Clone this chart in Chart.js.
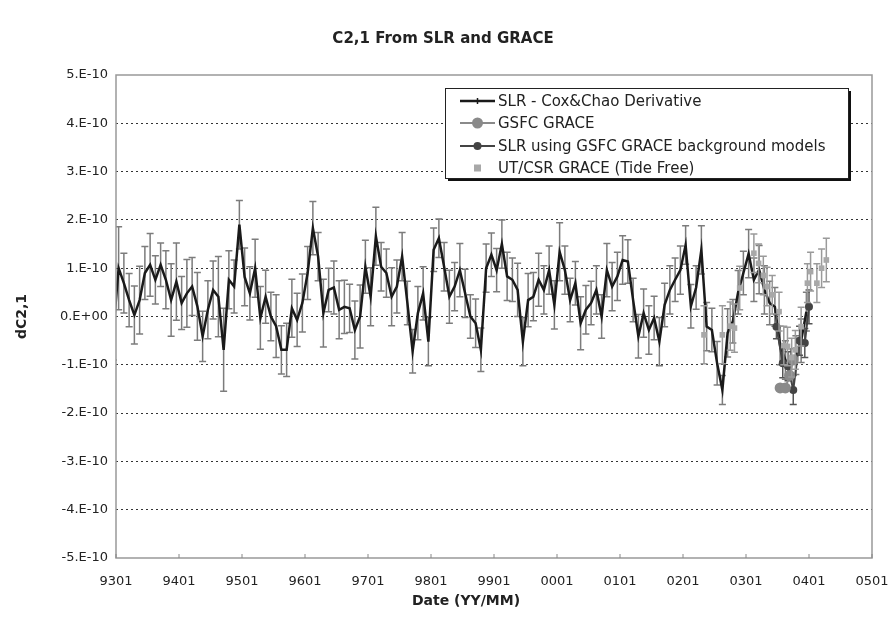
<!DOCTYPE html>
<html>
<head>
<meta charset="utf-8">
<script src="https://cdn.jsdelivr.net/npm/chart.js@4.4.1/dist/chart.umd.min.js"></script>
<style>
  html, body { margin: 0; padding: 0; background: #fff; }
</style>
</head>
<body>
<canvas id="grafico" width="893" height="617"></canvas>
<script>
// valores em unidades de 1e-10, eixo x em meses desde 9301
const xTickLabels = ['9301', '9401', '9501', '9601', '9701', '9801', '9901', '0001', '0101', '0201', '0301', '0401', '0501'];
const yTickValues = [-5, -4, -3, -2, -1, 0, 1, 2, 3, 4, 5];

// SLR - Cox&Chao (mensal)
const slrStart = -0.5;
const slrValues = [
  -0.3, 1.0, 0.69, 0.34, 0.03, 0.34, 0.9, 1.07, 0.76, 1.07,
  0.76, 0.34, 0.72, 0.28, 0.48, 0.62, 0.21, -0.41, 0.14, 0.55,
  0.41, -0.69, 0.76, 0.62, 1.9, 0.82, 0.48, 1.0, -0.03, 0.41,
  0.0, -0.2, -0.69, -0.69, 0.17, -0.07, 0.28, 0.9, 1.83, 1.24,
  0.07, 0.55, 0.6, 0.14, 0.2, 0.17, -0.28, 0.0, 1.03, 0.41,
  1.66, 1.03, 0.9, 0.41, 0.62, 1.24, 0.28, -0.72, 0.07, 0.48,
  -0.52, 1.38, 1.62, 1.03, 0.41, 0.62, 0.96, 0.48, 0.0, -0.14,
  -0.69, 1.0, 1.28, 0.96, 1.5, 0.83, 0.76, 0.55, -0.52, 0.34,
  0.41, 0.76, 0.55, 0.96, 0.24, 1.34, 0.96, 0.34, 0.69, -0.14,
  0.14, 0.28, 0.55, 0.0, 0.96, 0.62, 0.83, 1.17, 1.14, 0.34,
  -0.41, 0.07, -0.28, -0.03, -0.52, 0.24, 0.55, 0.76, 0.96, 1.48,
  0.21, 0.6, 1.38, -0.21, -0.28, -0.97, -1.52, -0.34, -0.1, 0.5,
  0.9, 1.3, 0.76, 0.97, 0.55, 0.28, 0.2, -0.6, -0.9, -0.97,
  -0.8, -0.5, 0.1
];
const slrErrors = [
  0.6, 0.86, 0.62, 0.55, 0.6, 0.7, 0.55, 0.65, 0.5, 0.45,
  0.6, 0.75, 0.8, 0.55, 0.7, 0.6, 0.7, 0.52, 0.6, 0.6,
  0.83, 0.86, 0.6, 0.55, 0.5, 0.6, 0.55, 0.6, 0.65, 0.55,
  0.5, 0.65, 0.5, 0.55, 0.6, 0.55, 0.6, 0.55, 0.55, 0.5,
  0.7, 0.45, 0.55, 0.6, 0.55, 0.5, 0.6, 0.65, 0.55, 0.6,
  0.6, 0.5, 0.5, 0.6, 0.55, 0.5, 0.45, 0.45, 0.55, 0.55,
  0.5, 0.45, 0.4, 0.5, 0.55, 0.5, 0.55, 0.5, 0.45, 0.5,
  0.45, 0.5, 0.45, 0.45, 0.5, 0.5, 0.45, 0.55, 0.5, 0.55,
  0.5, 0.55, 0.5, 0.5, 0.5, 0.6, 0.5, 0.45, 0.45, 0.55,
  0.5, 0.45, 0.5, 0.45, 0.55, 0.5, 0.5, 0.5, 0.45, 0.45,
  0.45, 0.5, 0.5, 0.45, 0.5, 0.45, 0.5, 0.45, 0.5, 0.4,
  0.45, 0.45, 0.5, 0.5, 0.45, 0.45, 0.3, 0.5, 0.45, 0.45,
  0.45, 0.5, 0.45, 0.5, 0.5, 0.45, 0.4, 0.4, 0.4, 0.3,
  0.4, 0.45, 0.4
];

// GSFC GRACE
const gsfcMonths = [126.5, 127.5, 128.3, 129.0];
const gsfcValues = [-1.48, -1.48, -1.22, -0.9];

// SLR usando modelos de fundo GSFC GRACE
const slrGsfcMonths = [125.8, 127, 128, 129, 130.2, 131.2, 132];
const slrGsfcValues = [-0.21, -0.97, -1.03, -1.52, -0.5, -0.55, 0.2];
const slrGsfcErrors = [0.25, 0.3, 0.3, 0.3, 0.3, 0.3, 0.35];

// UT/CSR GRACE (Tide Free)
const csrMonths = [112, 115.5, 117, 117.8, 118.8, 121.5, 122.4, 123.3, 124, 125, 126.3, 127.2, 127.9, 128.7, 129.4, 130.5, 131.7, 132.3, 133.5, 134.4, 135.3];
const csrValues = [-0.38, -0.38, -0.2, -0.24, 0.59, 1.31, 1.1, 0.85, 0.62, 0.45, 0.1, -0.6, -0.62, -0.85, -0.69, -0.21, 0.69, 0.93, 0.69, 1.0, 1.17];
const csrErrors = [0.6, 0.6, 0.5, 0.5, 0.45, 0.4, 0.4, 0.4, 0.4, 0.4, 0.4, 0.4, 0.4, 0.4, 0.4, 0.4, 0.4, 0.4, 0.4, 0.4, 0.45];

const fonte = 'DejaVu Sans';

// barras de erro, desenhadas antes de cada série
const barrasErro = {
  id: 'barrasErro',
  beforeDatasetDraw(chart, args) {
    const ds = chart.data.datasets[args.index];
    if (!ds.errors) return;
    const y = chart.scales.y;
    const area = chart.chartArea;
    const ctx = chart.ctx;
    ctx.save();
    ctx.beginPath();
    ctx.rect(area.left, area.top, area.right - area.left, area.bottom - area.top);
    ctx.clip();
    ctx.strokeStyle = ds.errorColor;
    ctx.lineWidth = 1.5;
    args.meta.data.forEach((pt, i) => {
      const v = ds.data[i].y, e = ds.errors[i];
      const topo = y.getPixelForValue(v + e), base = y.getPixelForValue(v - e);
      ctx.beginPath();
      ctx.moveTo(pt.x, topo); ctx.lineTo(pt.x, base);
      ctx.moveTo(pt.x - 3.5, topo); ctx.lineTo(pt.x + 3.5, topo);
      ctx.moveTo(pt.x - 3.5, base); ctx.lineTo(pt.x + 3.5, base);
      ctx.stroke();
    });
    ctx.restore();
  }
};

// moldura, título do eixo x e legenda dentro do gráfico
const molduraLegenda = {
  id: 'molduraLegenda',
  afterDraw(chart) {
    const ctx = chart.ctx;
    const a = chart.chartArea;
    const x = chart.scales.x;
    ctx.save();
    ctx.strokeStyle = '#999';
    ctx.lineWidth = 1.5;
    ctx.strokeRect(a.left, a.top, a.right - a.left, a.bottom - a.top);
    ctx.strokeStyle = '#888';
    ctx.lineWidth = 1;
    x.ticks.forEach(t => {
      const px = x.getPixelForValue(t.value);
      ctx.beginPath(); ctx.moveTo(px, a.bottom); ctx.lineTo(px, a.bottom - 4); ctx.stroke();
    });

    ctx.fillStyle = '#222';
    ctx.font = 'bold 14px "' + fonte + '"';
    ctx.textAlign = 'center';
    ctx.textBaseline = 'middle';
    ctx.fillText('Date (YY/MM)', 466, 601);

    // legenda
    const lx = 445, ly = 88, lw = 403, lh = 90;
    ctx.fillStyle = '#111';
    ctx.fillRect(lx + 3, ly + 3, lw, lh);
    ctx.fillStyle = '#fff';
    ctx.fillRect(lx, ly, lw, lh);
    ctx.strokeStyle = '#222';
    ctx.lineWidth = 1;
    ctx.strokeRect(lx + 0.5, ly + 0.5, lw, lh);

    const linhas = [101, 123, 146, 168];
    ctx.font = '15px "' + fonte + '"';
    ctx.textAlign = 'left';
    chart.data.datasets.forEach((ds, i) => {
      const cy = linhas[i];
      if (ds.showLine !== false) {
        ctx.strokeStyle = ds.borderColor;
        ctx.lineWidth = ds.borderWidth;
        ctx.beginPath(); ctx.moveTo(460, cy); ctx.lineTo(495, cy); ctx.stroke();
      }
      ctx.fillStyle = ds.pointBackgroundColor || ds.borderColor;
      if (ds.legendMark === 'tick') {
        ctx.lineWidth = 1.5;
        ctx.beginPath(); ctx.moveTo(477.5, cy - 3); ctx.lineTo(477.5, cy + 3); ctx.stroke();
      } else if (ds.legendMark === 'circle') {
        ctx.beginPath(); ctx.arc(477.5, cy, ds.pointRadius, 0, Math.PI * 2); ctx.fill();
      } else if (ds.legendMark === 'square') {
        ctx.fillRect(474, cy - 3.5, 7, 7);
      }
      ctx.fillStyle = '#222';
      ctx.fillText(ds.label, 498, cy + 1);
    });
    ctx.restore();
  }
};

new Chart(document.getElementById('grafico'), {
  type: 'scatter',
  data: {
    datasets: [
      {
        label: 'SLR - Cox&Chao Derivative',
        data: slrValues.map((v, i) => ({ x: slrStart + i, y: v })),
        errors: slrErrors,
        errorColor: '#7c7c7c',
        showLine: true,
        borderColor: '#1a1a1a',
        borderWidth: 2.5,
        pointRadius: 0,
        legendMark: 'tick',
        order: 4
      },
      {
        label: 'GSFC GRACE',
        data: gsfcMonths.map((m, i) => ({ x: m, y: gsfcValues[i] })),
        showLine: true,
        borderColor: '#8a8a8a',
        borderWidth: 2,
        pointRadius: 5.5,
        pointBackgroundColor: '#8a8a8a',
        pointBorderWidth: 0,
        legendMark: 'circle',
        order: 2
      },
      {
        label: 'SLR using GSFC GRACE background models',
        data: slrGsfcMonths.map((m, i) => ({ x: m, y: slrGsfcValues[i] })),
        errors: slrGsfcErrors,
        errorColor: '#555',
        showLine: true,
        borderColor: '#444',
        borderWidth: 2,
        pointRadius: 4,
        pointBackgroundColor: '#444',
        pointBorderWidth: 0,
        legendMark: 'circle',
        order: 3
      },
      {
        label: 'UT/CSR GRACE (Tide Free)',
        data: csrMonths.map((m, i) => ({ x: m, y: csrValues[i] })),
        errors: csrErrors,
        errorColor: '#9a9a9a',
        showLine: false,
        borderColor: '#a8a8a8',
        pointStyle: 'rect',
        pointRadius: 4,
        pointBackgroundColor: '#a8a8a8',
        pointBorderWidth: 0,
        legendMark: 'square',
        order: 1
      }
    ]
  },
  options: {
    responsive: false,
    animation: false,
    devicePixelRatio: 1,
    layout: { padding: { left: 14, right: 21, top: 0, bottom: 0 } },
    plugins: {
      legend: { display: false },
      tooltip: { enabled: false },
      title: {
        display: true,
        text: 'C2,1 From SLR and GRACE',
        color: '#222',
        font: { family: fonte, size: 15, weight: 'bold' },
        padding: { top: 30, bottom: 27 }
      }
    },
    scales: {
      x: {
        type: 'linear',
        min: 0,
        max: 144,
        afterBuildTicks: s => { s.ticks = xTickLabels.map((_, i) => ({ value: i * 12 })); },
        afterFit: s => { s.height = 59; s.paddingLeft = 0; s.paddingRight = 0; },
        ticks: {
          color: '#222',
          font: { family: fonte, size: 13 },
          padding: 16,
          maxRotation: 0,
          callback: v => xTickLabels[Math.round(v / 12)]
        },
        grid: { drawOnChartArea: false, drawTicks: false },
        border: { display: false }
      },
      y: {
        min: -5,
        max: 5,
        afterBuildTicks: s => { s.ticks = yTickValues.map(v => ({ value: v })); },
        afterFit: s => { s.width = 102; },
        ticks: {
          color: '#222',
          font: { family: fonte, size: 13 },
          padding: 8,
          callback: v => v === 0 ? '0.E+00' : v + '.E-10'
        },
        grid: {
          drawTicks: false,
          color: c => (c.tick && Math.abs(c.tick.value) === 5) ? 'rgba(0,0,0,0)' : '#333',
          lineWidth: 1
        },
        border: { display: false, dash: [2, 3] },
        title: {
          display: true,
          text: 'dC2,1',
          color: '#222',
          font: { family: fonte, size: 14, weight: 'bold' },
          padding: { top: 0, bottom: 4 }
        }
      }
    }
  },
  plugins: [barrasErro, molduraLegenda]
});
</script>
</body>
</html>
